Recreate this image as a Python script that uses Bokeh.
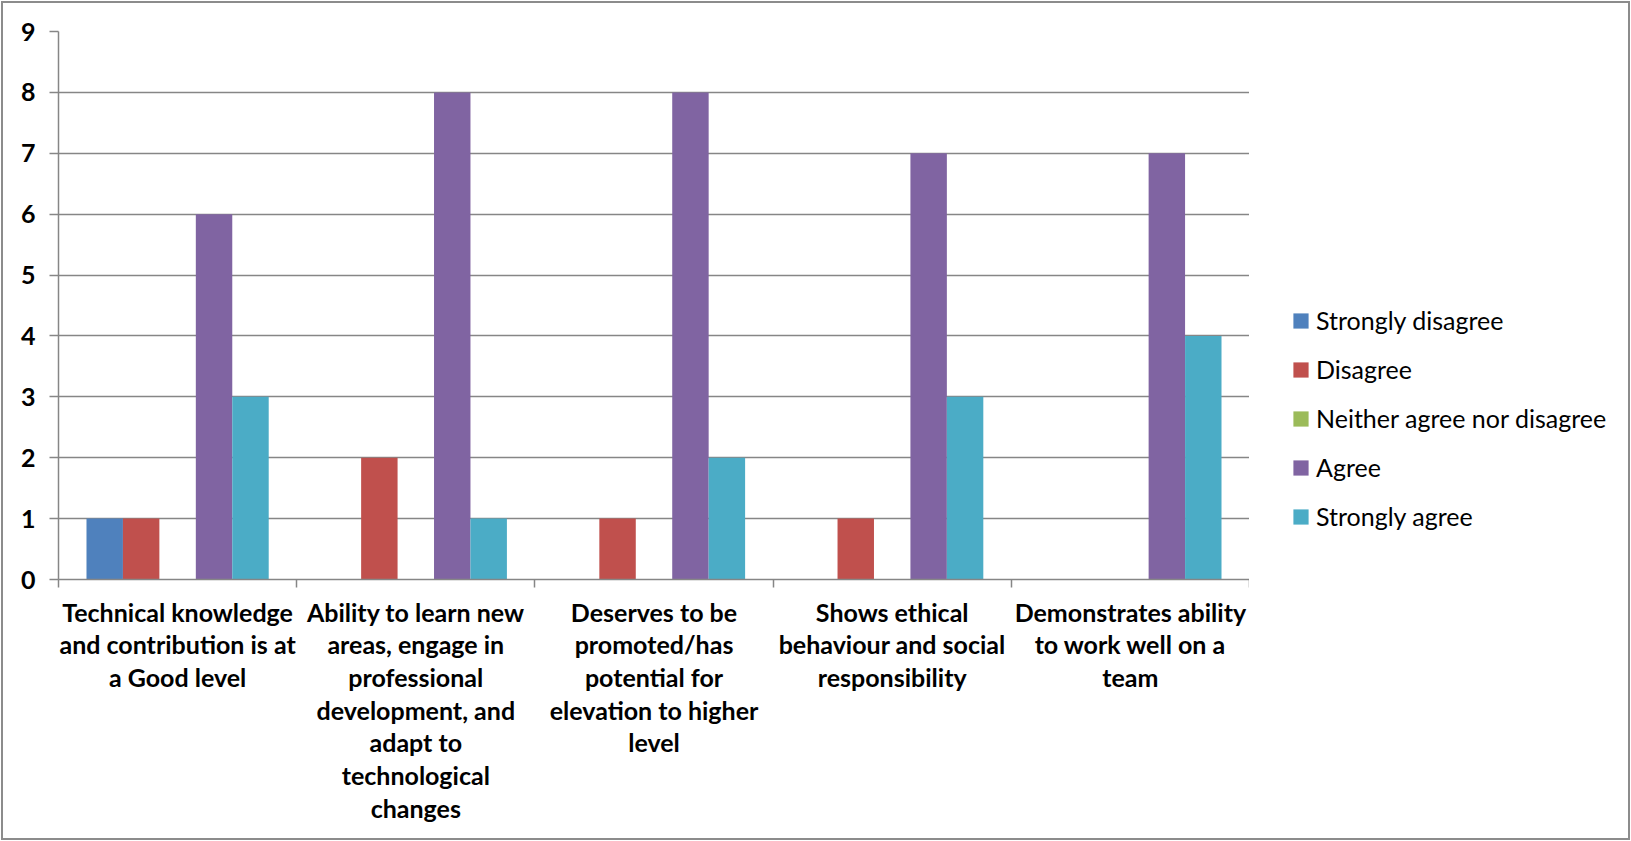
from bokeh.plotting import figure
from bokeh.layouts import row
from bokeh.models import FixedTicker, Legend, LegendItem, ColumnDataSource, InlineStyleSheet
from bokeh.transform import dodge
from bokeh.embed import file_html
from bokeh.resources import INLINE
import numpy as np

categories = [
    "Technical knowledge\nand contribution is at\na Good level",
    "Ability to learn new\nareas, engage in\nprofessional\ndevelopment, and\nadapt to\ntechnological\nchanges",
    "Deserves to be\npromoted/has\npotential for\nelevation to higher\nlevel",
    "Shows ethical\nbehaviour and social\nresponsibility",
    "Demonstrates ability\nto work well on a\nteam",
]
series_names = ["Strongly disagree", "Disagree", "Neither agree nor disagree", "Agree", "Strongly agree"]
strongly_disagree = [1, 0, 0, 0, 0]
disagree = [1, 2, 1, 1, 0]
neither = [0, 0, 0, 0, 0]
agree = [6, 8, 8, 7, 7]
strongly_agree = [3, 1, 2, 3, 4]
colors = ["#4F81BD", "#C0504D", "#9BBB59", "#8064A2", "#4BACC6"]
y_ticks = [0, 1, 2, 3, 4, 5, 6, 7, 8, 9]

FONT = "Lato"
GRAY = "#868686"

n = len(categories)
centers = list(np.arange(n) + 0.5)
bounds = list(np.arange(n + 1).astype(float))

src = ColumnDataSource(dict(
    x=centers,
    s0=strongly_disagree, s1=disagree, s2=neither, s3=agree, s4=strongly_agree,
))
keys = ["s0", "s1", "s2", "s3", "s4"]

p = figure(frame_width=1191, frame_height=548, x_range=(0, n), y_range=(0, max(y_ticks)),
           output_backend="svg", toolbar_location=None,
           min_border_left=58, min_border_top=31, min_border_right=0, min_border_bottom=262)
p.background_fill_color = "white"
p.border_fill_alpha = 0
p.outline_line_color = None

# y axis
p.yaxis.ticker = FixedTicker(ticks=y_ticks)
p.yaxis.axis_line_color = GRAY
p.yaxis.axis_line_width = 1.5
p.yaxis.major_tick_line_color = GRAY
p.yaxis.major_tick_line_width = 1.5
p.yaxis.major_tick_out = 9
p.yaxis.major_tick_in = 0
p.yaxis.minor_tick_line_color = None
p.yaxis.major_label_text_font = FONT
p.yaxis.major_label_text_font_style = "bold"
p.yaxis.major_label_text_font_size = "25px"
p.yaxis.major_label_text_color = "black"
p.yaxis.major_label_standoff = 14

p.ygrid.ticker = FixedTicker(ticks=y_ticks)
p.ygrid.grid_line_color = GRAY
p.ygrid.grid_line_width = 1.5
p.xgrid.visible = False

# x axis
p.xaxis.ticker = FixedTicker(ticks=centers, minor_ticks=bounds)
p.xaxis.major_label_overrides = {c: lab for c, lab in zip(centers, categories)}
p.xaxis.axis_line_color = GRAY
p.xaxis.axis_line_width = 1.5
p.xaxis.major_tick_line_color = None
p.xaxis.major_tick_out = 8
p.xaxis.major_tick_in = 0
p.xaxis.minor_tick_line_color = GRAY
p.xaxis.minor_tick_line_width = 1.5
p.xaxis.minor_tick_out = 8
p.xaxis.minor_tick_in = 0
p.xaxis.major_label_text_font = FONT
p.xaxis.major_label_text_font_style = "bold"
p.xaxis.major_label_text_font_size = "25px"
p.xaxis.major_label_text_color = "black"
p.xaxis.major_label_text_line_height = 1.09
p.xaxis.major_label_standoff = 9

bar_w = 0.153
for k, (key, col) in enumerate(zip(keys, colors)):
    p.vbar(x=dodge("x", (k - 2) * bar_w, range=p.x_range), top=key, width=bar_w,
           source=src, fill_color=col, line_color=None)

# legend panel (separate figure so the legend is not clipped by the plot frame)
lf = figure(width=382, height=841, output_backend="svg", toolbar_location=None,
            x_axis_location=None, y_axis_location=None,
            min_border_left=0, min_border_right=0, min_border_top=0, min_border_bottom=0)
lf.outline_line_color = None
lf.border_fill_alpha = 0
lf.background_fill_alpha = 0
lf.grid.visible = False
items = []
for key, name, col in zip(keys, series_names, colors):
    r = lf.vbar(x="x", top=key, width=bar_w, source=src, fill_color=col, line_color=None,
                visible=False)
    items.append(LegendItem(label=name, renderers=[r]))

legend = Legend(items=items, location=(42, 48))
legend.margin = 0
legend.padding = 0
legend.border_line_color = None
legend.background_fill_alpha = 0
legend.glyph_width = 19
legend.glyph_height = 19
legend.label_height = 29
legend.label_standoff = 6
legend.spacing = 19
legend.label_text_font = FONT
legend.label_text_font_size = "25px"
legend.label_text_color = "black"
lf.add_layout(legend)

layout = row(p, lf, spacing=0)
layout.stylesheets = [InlineStyleSheet(css=":host { outline: 2px solid #8c8c8c; outline-offset: -3px; }")]

open("out.html", "w").write(file_html(layout, INLINE))
